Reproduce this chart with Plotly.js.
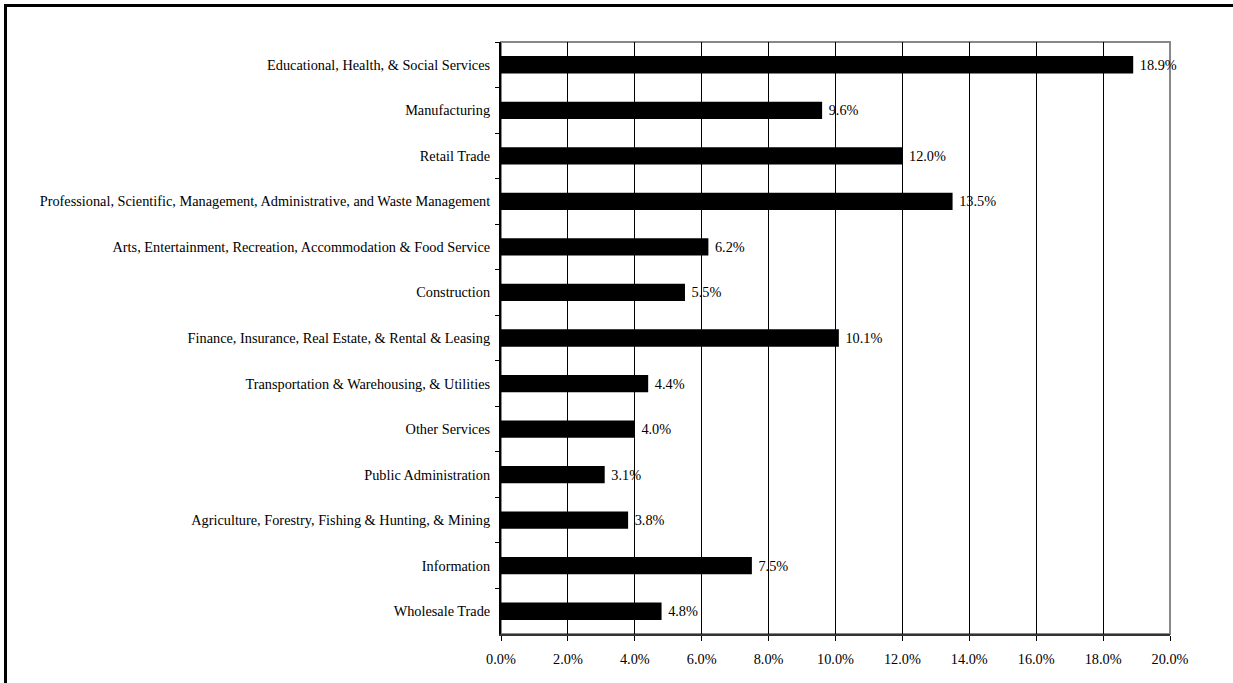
<!DOCTYPE html>
<html>
<head>
<meta charset="utf-8">
<script src="https://cdn.plot.ly/plotly-3.0.1.min.js"></script>
<style>
html,body{margin:0;padding:0;background:#fff;overflow:hidden;}
#wrap{position:relative;width:1233px;height:683px;overflow:hidden;}
#chart{width:1233px;height:683px;}
#frame{position:absolute;left:4px;top:4px;width:2000px;height:2000px;border-left:3px solid #000;border-top:3px solid #000;pointer-events:none;}
</style>
</head>
<body>
<div id="wrap"><div id="chart"></div><div id="frame"></div></div>
<script>
const categories = [
  "Educational, Health, & Social Services",
  "Manufacturing",
  "Retail Trade",
  "Professional, Scientific, Management, Administrative, and Waste Management",
  "Arts, Entertainment, Recreation, Accommodation & Food Service",
  "Construction",
  "Finance, Insurance, Real Estate, & Rental & Leasing",
  "Transportation & Warehousing, & Utilities",
  "Other Services",
  "Public Administration",
  "Agriculture, Forestry, Fishing & Hunting, & Mining",
  "Information",
  "Wholesale Trade"
];
const percentValues = [18.9, 9.6, 12.0, 13.5, 6.2, 5.5, 10.1, 4.4, 4.0, 3.1, 3.8, 7.5, 4.8];
const xTickValues = [0, 2, 4, 6, 8, 10, 12, 14, 16, 18, 20];
const xTickLabels = ["0.0%", "2.0%", "4.0%", "6.0%", "8.0%", "10.0%", "12.0%", "14.0%", "16.0%", "18.0%", "20.0%"];

const font = {family: "Liberation Serif, Times New Roman, serif", size: 14.3, color: "#000"};

const trace = {
  type: "bar",
  orientation: "h",
  x: percentValues,
  y: categories,
  width: 0.38,
  marker: {color: "#000", line: {width: 0}},
  text: percentValues.map(v => "\u00a0" + v.toFixed(1) + "%"),
  textposition: "outside",
  cliponaxis: false,
  textfont: font,
  hoverinfo: "none"
};

const L = 501, R = 1170, T = 42, B = 634, W = 1233, H = 683;

const layout = {
  width: W, height: H,
  margin: {l: L, r: W - R, t: T, b: H - B, pad: 0},
  paper_bgcolor: "#fff",
  plot_bgcolor: "#fff",
  font: font,
  showlegend: false,
  bargap: 0.62,
  xaxis: {
    range: [0, 20],
    tickvals: xTickValues,
    ticktext: xTickLabels,
    showgrid: true,
    gridcolor: "#000",
    gridwidth: 1,
    zeroline: false,
    showline: true,
    linecolor: "#333",
    linewidth: 2,
    ticks: "outside",
    ticklen: 5,
    tickcolor: "#000",
    tickfont: font,
    ticklabelstandoff: 6,
    fixedrange: true
  },
  yaxis: {
    type: "category",
    autorange: "reversed",
    showgrid: false,
    zeroline: false,
    showline: true,
    linecolor: "#000",
    linewidth: 2,
    ticks: "outside",
    tickson: "boundaries",
    ticklen: 4,
    tickcolor: "#000",
    tickfont: font,
    ticklabelstandoff: 6,
    fixedrange: true
  },
  shapes: [
    {type: "rect", xref: "paper", yref: "paper", x0: 0, x1: 1, y0: 0, y1: 1,
     line: {color: "#888", width: 2}, layer: "below"}
  ]
};

Plotly.newPlot("chart", [trace], layout, {displayModeBar: false, staticPlot: true});
</script>
</body>
</html>
